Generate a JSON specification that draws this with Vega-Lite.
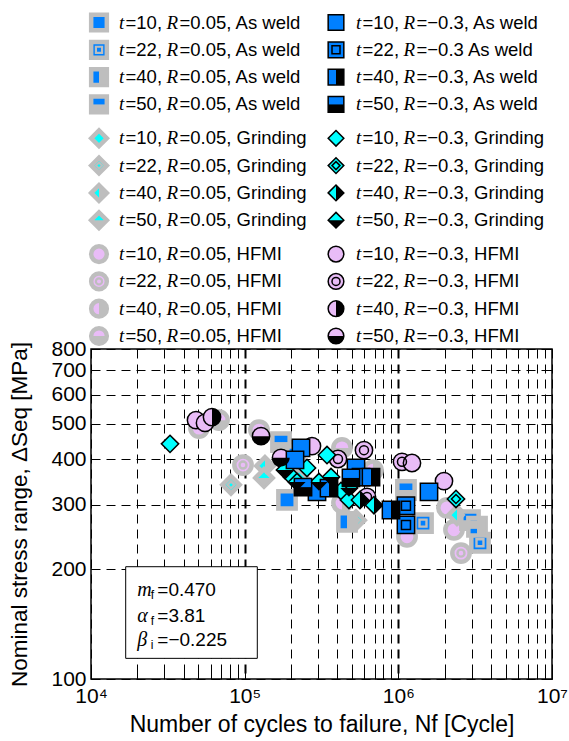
{
  "$schema": "https://vega.github.io/schema/vega-lite/v6.json",
  "padding": {"left": 8, "top": 5, "right": 0, "bottom": 0},
  "spacing": 0,
  "bounds": "flush",
  "vconcat": [
    {
      "width": 461,
      "height": 342,
      "view": {"stroke": null},
      "data": {"values": [
        {"col": 0, "pos": 0, "t": 10, "R": 0.05, "tr": "AW", "tl": "=10,", "rl": "=0.05, As weld"},
        {"col": 0, "pos": 1, "t": 22, "R": 0.05, "tr": "AW", "tl": "=22,", "rl": "=0.05, As weld"},
        {"col": 0, "pos": 2, "t": 40, "R": 0.05, "tr": "AW", "tl": "=40,", "rl": "=0.05, As weld"},
        {"col": 0, "pos": 3, "t": 50, "R": 0.05, "tr": "AW", "tl": "=50,", "rl": "=0.05, As weld"},
        {"col": 0, "pos": 4.24, "t": 10, "R": 0.05, "tr": "GR", "tl": "=10,", "rl": "=0.05, Grinding"},
        {"col": 0, "pos": 5.24, "t": 22, "R": 0.05, "tr": "GR", "tl": "=22,", "rl": "=0.05, Grinding"},
        {"col": 0, "pos": 6.24, "t": 40, "R": 0.05, "tr": "GR", "tl": "=40,", "rl": "=0.05, Grinding"},
        {"col": 0, "pos": 7.24, "t": 50, "R": 0.05, "tr": "GR", "tl": "=50,", "rl": "=0.05, Grinding"},
        {"col": 0, "pos": 8.48, "t": 10, "R": 0.05, "tr": "HF", "tl": "=10,", "rl": "=0.05, HFMI"},
        {"col": 0, "pos": 9.48, "t": 22, "R": 0.05, "tr": "HF", "tl": "=22,", "rl": "=0.05, HFMI"},
        {"col": 0, "pos": 10.48, "t": 40, "R": 0.05, "tr": "HF", "tl": "=40,", "rl": "=0.05, HFMI"},
        {"col": 0, "pos": 11.48, "t": 50, "R": 0.05, "tr": "HF", "tl": "=50,", "rl": "=0.05, HFMI"},
        {"col": 1, "pos": 0, "t": 10, "R": -0.3, "tr": "AW", "tl": "=10,", "rl": "=−0.3, As weld"},
        {"col": 1, "pos": 1, "t": 22, "R": -0.3, "tr": "AW", "tl": "=22,", "rl": "=−0.3 As weld"},
        {"col": 1, "pos": 2, "t": 40, "R": -0.3, "tr": "AW", "tl": "=40,", "rl": "=−0.3, As weld"},
        {"col": 1, "pos": 3, "t": 50, "R": -0.3, "tr": "AW", "tl": "=50,", "rl": "=−0.3, As weld"},
        {"col": 1, "pos": 4.24, "t": 10, "R": -0.3, "tr": "GR", "tl": "=10,", "rl": "=−0.3, Grinding"},
        {"col": 1, "pos": 5.24, "t": 22, "R": -0.3, "tr": "GR", "tl": "=22,", "rl": "=−0.3, Grinding"},
        {"col": 1, "pos": 6.24, "t": 40, "R": -0.3, "tr": "GR", "tl": "=40,", "rl": "=−0.3, Grinding"},
        {"col": 1, "pos": 7.24, "t": 50, "R": -0.3, "tr": "GR", "tl": "=50,", "rl": "=−0.3, Grinding"},
        {"col": 1, "pos": 8.48, "t": 10, "R": -0.3, "tr": "HF", "tl": "=10,", "rl": "=−0.3, HFMI"},
        {"col": 1, "pos": 9.48, "t": 22, "R": -0.3, "tr": "HF", "tl": "=22,", "rl": "=−0.3, HFMI"},
        {"col": 1, "pos": 10.48, "t": 40, "R": -0.3, "tr": "HF", "tl": "=40,", "rl": "=−0.3, HFMI"},
        {"col": 1, "pos": 11.48, "t": 50, "R": -0.3, "tr": "HF", "tl": "=50,", "rl": "=−0.3, HFMI"}
      ]},
      "encoding": {
        "x": {"field": "col", "type": "quantitative", "scale": {"domain": [0, 1], "range": [8, 245], "nice": false, "zero": false}, "axis": null},
        "y": {"field": "pos", "type": "quantitative", "scale": {"domain": [0, 11.48], "range": [15.5, 329], "nice": false, "zero": false}, "axis": null}
      },
      "layer": [
        {"transform": [{"filter": "datum.R > 0"}],
         "mark": {"type": "point", "filled": true, "opacity": 1, "stroke": "#BEBEBE", "strokeWidth": 4.5, "size": 245},
         "encoding": {
           "shape": {"field": "tr", "type": "nominal", "scale": {"domain": ["AW", "GR", "HF"], "range": ["square", "diamond", "circle"]}, "legend": null},
           "fill": {"field": "tr", "type": "nominal", "scale": {"domain": ["AW", "GR", "HF"], "range": ["#0080FF", "#00FFFF", "#E9BCF7"]}, "legend": null}}},
        {"transform": [{"filter": "datum.R > 0 && datum.t == 40"}],
         "mark": {"type": "point", "filled": true, "opacity": 1, "fill": "#BEBEBE", "strokeWidth": 0, "size": 245},
         "encoding": {"shape": {"field": "tr", "type": "nominal", "scale": {"domain": ["AW", "GR", "HF"], "range": ["M0,-1H1V1H0Z", "M0,-1L1,0L0,1Z", "M0,-1A1,1,0,0,1,0,1Z"]}, "legend": null}}},
        {"transform": [{"filter": "datum.R > 0 && datum.t == 50"}],
         "mark": {"type": "point", "filled": true, "opacity": 1, "fill": "#BEBEBE", "strokeWidth": 0, "size": 245},
         "encoding": {"shape": {"field": "tr", "type": "nominal", "scale": {"domain": ["AW", "GR", "HF"], "range": ["M-1,0H1V1H-1Z", "M-1,0L1,0L0,1Z", "M-1,0A1,1,0,0,0,1,0Z"]}, "legend": null}}},
        {"transform": [{"filter": "datum.R > 0 && datum.t == 22"}],
         "mark": {"type": "point", "filled": false, "opacity": 1, "stroke": "#BEBEBE", "strokeWidth": 2.2, "size": 38},
         "encoding": {"shape": {"field": "tr", "type": "nominal", "scale": {"domain": ["AW", "GR", "HF"], "range": ["square", "diamond", "circle"]}, "legend": null}}},
        {"transform": [{"filter": "datum.R < 0"}],
         "mark": {"type": "point", "filled": true, "opacity": 1, "stroke": "black", "strokeWidth": 1.5, "size": 245},
         "encoding": {
           "shape": {"field": "tr", "type": "nominal", "scale": {"domain": ["AW", "GR", "HF"], "range": ["square", "diamond", "circle"]}, "legend": null},
           "fill": {"field": "tr", "type": "nominal", "scale": {"domain": ["AW", "GR", "HF"], "range": ["#0080FF", "#00FFFF", "#E9BCF7"]}, "legend": null}}},
        {"transform": [{"filter": "datum.R < 0 && datum.t == 40"}],
         "mark": {"type": "point", "filled": true, "opacity": 1, "fill": "black", "strokeWidth": 0, "size": 245},
         "encoding": {"shape": {"field": "tr", "type": "nominal", "scale": {"domain": ["AW", "GR", "HF"], "range": ["M0,-1H1V1H0Z", "M0,-1L1,0L0,1Z", "M0,-1A1,1,0,0,1,0,1Z"]}, "legend": null}}},
        {"transform": [{"filter": "datum.R < 0 && datum.t == 50"}],
         "mark": {"type": "point", "filled": true, "opacity": 1, "fill": "black", "strokeWidth": 0, "size": 245},
         "encoding": {"shape": {"field": "tr", "type": "nominal", "scale": {"domain": ["AW", "GR", "HF"], "range": ["M-1,0H1V1H-1Z", "M-1,0L1,0L0,1Z", "M-1,0A1,1,0,0,0,1,0Z"]}, "legend": null}}},
        {"transform": [{"filter": "datum.R < 0 && datum.t == 22"}],
         "mark": {"type": "point", "filled": false, "opacity": 1, "stroke": "black", "strokeWidth": 1.5, "size": 64},
         "encoding": {"shape": {"field": "tr", "type": "nominal", "scale": {"domain": ["AW", "GR", "HF"], "range": ["square", "diamond", "circle"]}, "legend": null}}},
        {"mark": {"type": "text", "text": "t", "font": "Liberation Serif", "fontStyle": "italic", "fontSize": 19, "align": "left", "baseline": "middle", "dx": 20, "color": "black"}},
        {"mark": {"type": "text", "font": "Liberation Sans", "fontSize": 18.5, "align": "left", "baseline": "middle", "dx": 26.5, "color": "black"},
         "encoding": {"text": {"field": "tl"}}},
        {"mark": {"type": "text", "text": "R", "font": "Liberation Serif", "fontStyle": "italic", "fontSize": 19, "align": "left", "baseline": "middle", "dx": 67.5, "color": "black"}},
        {"mark": {"type": "text", "font": "Liberation Sans", "fontSize": 18.5, "align": "left", "baseline": "middle", "dx": 80.5, "color": "black"},
         "encoding": {"text": {"field": "rl"}}}
      ],
      "resolve": {"scale": {"shape": "independent"}}
    },
    {
      "width": 461,
      "height": 330,
      "view": {"stroke": "black", "strokeWidth": 1.5},
      "data": {"values": [
        {"N": 50440, "S": 486, "t": 10, "R": 0.05, "tr": "HF"},
        {"N": 68080, "S": 511, "t": 50, "R": 0.05, "tr": "HF"},
        {"N": 123970, "S": 480, "t": 10, "R": 0.05, "tr": "HF"},
        {"N": 97520, "S": 385, "t": 22, "R": 0.05, "tr": "HF"},
        {"N": 429800, "S": 429, "t": 50, "R": 0.05, "tr": "HF"},
        {"N": 1139000, "S": 245, "t": 10, "R": 0.05, "tr": "HF"},
        {"N": 2073000, "S": 294, "t": 10, "R": 0.05, "tr": "HF"},
        {"N": 2302000, "S": 256, "t": 10, "R": 0.05, "tr": "HF"},
        {"N": 2557000, "S": 221, "t": 22, "R": 0.05, "tr": "HF"},
        {"N": 429800, "S": 303, "t": 40, "R": 0.05, "tr": "HF"},
        {"N": 684100, "S": 373, "t": 40, "R": 0.05, "tr": "HF"},
        {"N": 81470, "S": 340, "t": 22, "R": 0.05, "tr": "GR"},
        {"N": 135600, "S": 383, "t": 40, "R": 0.05, "tr": "GR"},
        {"N": 133600, "S": 355, "t": 50, "R": 0.05, "tr": "GR"},
        {"N": 530300, "S": 272, "t": 22, "R": 0.05, "tr": "GR"},
        {"N": 2408000, "S": 281, "t": 40, "R": 0.05, "tr": "GR"},
        {"N": 225700, "S": 355, "t": 10, "R": 0.05, "tr": "GR"},
        {"N": 172400, "S": 445, "t": 50, "R": 0.05, "tr": "AW"},
        {"N": 188600, "S": 309, "t": 10, "R": 0.05, "tr": "AW"},
        {"N": 1121000, "S": 329, "t": 50, "R": 0.05, "tr": "AW"},
        {"N": 1447000, "S": 267, "t": 22, "R": 0.05, "tr": "AW"},
        {"N": 2926000, "S": 272, "t": 50, "R": 0.05, "tr": "AW"},
        {"N": 3399000, "S": 236, "t": 22, "R": 0.05, "tr": "AW"},
        {"N": 463400, "S": 269, "t": 40, "R": 0.05, "tr": "AW"},
        {"N": 212600, "S": 410, "t": 40, "R": 0.05, "tr": "AW"},
        {"N": 3250000, "S": 261, "t": 40, "R": 0.05, "tr": "AW"},
        {"N": 48240, "S": 511, "t": 10, "R": -0.3, "tr": "HF"},
        {"N": 55180, "S": 502, "t": 10, "R": -0.3, "tr": "HF"},
        {"N": 61290, "S": 521, "t": 40, "R": -0.3, "tr": "HF"},
        {"N": 127760, "S": 462, "t": 50, "R": -0.3, "tr": "HF"},
        {"N": 172400, "S": 403, "t": 50, "R": -0.3, "tr": "HF"},
        {"N": 274200, "S": 434, "t": 10, "R": -0.3, "tr": "HF"},
        {"N": 404900, "S": 400, "t": 22, "R": -0.3, "tr": "HF"},
        {"N": 597600, "S": 423, "t": 22, "R": -0.3, "tr": "HF"},
        {"N": 1056000, "S": 393, "t": 22, "R": -0.3, "tr": "HF"},
        {"N": 1227000, "S": 390, "t": 10, "R": -0.3, "tr": "HF"},
        {"N": 1982000, "S": 348, "t": 10, "R": -0.3, "tr": "HF"},
        {"N": 625300, "S": 315, "t": 22, "R": -0.3, "tr": "HF"},
        {"N": 32680, "S": 440, "t": 10, "R": -0.3, "tr": "GR"},
        {"N": 343400, "S": 410, "t": 10, "R": -0.3, "tr": "GR"},
        {"N": 2372000, "S": 311, "t": 22, "R": -0.3, "tr": "GR"},
        {"N": 694400, "S": 299, "t": 40, "R": -0.3, "tr": "GR"},
        {"N": 203200, "S": 357, "t": 10, "R": -0.3, "tr": "GR"},
        {"N": 254400, "S": 378, "t": 10, "R": -0.3, "tr": "GR"},
        {"N": 364600, "S": 357, "t": 50, "R": -0.3, "tr": "GR"},
        {"N": 219000, "S": 346, "t": 50, "R": -0.3, "tr": "GR"},
        {"N": 304500, "S": 346, "t": 50, "R": -0.3, "tr": "GR"},
        {"N": 477300, "S": 333, "t": 50, "R": -0.3, "tr": "GR"},
        {"N": 423600, "S": 327, "t": 10, "R": -0.3, "tr": "GR"},
        {"N": 477300, "S": 309, "t": 10, "R": -0.3, "tr": "GR"},
        {"N": 183000, "S": 373, "t": 50, "R": -0.3, "tr": "GR"},
        {"N": 562900, "S": 309, "t": 40, "R": -0.3, "tr": "GR"},
        {"N": 232600, "S": 429, "t": 10, "R": -0.3, "tr": "AW"},
        {"N": 212600, "S": 398, "t": 10, "R": -0.3, "tr": "AW"},
        {"N": 530300, "S": 378, "t": 10, "R": -0.3, "tr": "AW"},
        {"N": 571400, "S": 357, "t": 10, "R": -0.3, "tr": "AW"},
        {"N": 663900, "S": 357, "t": 40, "R": -0.3, "tr": "AW"},
        {"N": 295600, "S": 325, "t": 10, "R": -0.3, "tr": "AW"},
        {"N": 1583000, "S": 325, "t": 10, "R": -0.3, "tr": "AW"},
        {"N": 1121000, "S": 298, "t": 22, "R": -0.3, "tr": "AW"},
        {"N": 1121000, "S": 264, "t": 22, "R": -0.3, "tr": "AW"},
        {"N": 895900, "S": 290, "t": 40, "R": -0.3, "tr": "AW"},
        {"N": 491800, "S": 355, "t": 50, "R": -0.3, "tr": "AW"},
        {"N": 353800, "S": 333, "t": 40, "R": -0.3, "tr": "AW"},
        {"N": 239700, "S": 335, "t": 50, "R": -0.3, "tr": "AW"}
      ]},
      "encoding": {
        "x": {"field": "N", "type": "quantitative", "scale": {"type": "log", "domain": [10000, 10000000], "nice": false}, "axis": null},
        "y": {"field": "S", "type": "quantitative", "scale": {"type": "log", "domain": [100, 800], "nice": false}, "axis": null}
      },
      "layer": [
        {"data": {"values": [{"N1": 16820, "N2": 120850, "S1": 113.9, "S2": 202.9}]},
         "mark": {"type": "rect", "fill": "white", "stroke": "black", "strokeWidth": 1},
         "encoding": {
           "x": {"field": "N1", "type": "quantitative", "scale": {"type": "log", "domain": [10000, 10000000], "nice": false},
                 "axis": {"orient": "top", "values": [10000, 20000, 30000, 40000, 50000, 60000, 70000, 80000, 90000, 100000, 200000, 300000, 400000, 500000, 600000, 700000, 800000, 900000, 1000000, 2000000, 3000000, 4000000, 5000000, 6000000, 7000000, 8000000, 9000000, 10000000],
                          "labels": false, "grid": false, "domain": false, "tickSize": -8, "tickColor": "black", "tickWidth": 1, "title": null}},
           "x2": {"field": "N2"},
           "y": {"field": "S1", "type": "quantitative", "scale": {"type": "log", "domain": [100, 800], "nice": false},
                 "axis": {"orient": "right", "values": [100, 200, 300, 400, 500, 600, 700, 800], "labels": false, "grid": false, "domain": false, "tickSize": -8, "tickColor": "black", "tickWidth": 1, "title": null}},
           "y2": {"field": "S2"}}},
        {"data": {"values": [
           {"Nt": 20010, "S": 175.2, "sym": "m", "sub": "f", "val": "=0.470"},
           {"Nt": 20010, "S": 149.2, "sym": "α", "sub": "f", "val": "=3.81"},
           {"Nt": 20010, "S": 127.8, "sym": "β", "sub": "i", "val": "=−0.225"}]},
         "encoding": {
           "x": {"field": "Nt", "type": "quantitative", "scale": {"type": "log", "domain": [10000, 10000000], "nice": false}, "axis": null},
           "y": {"field": "S", "type": "quantitative", "scale": {"type": "log", "domain": [100, 800], "nice": false}, "axis": null}},
         "layer": [
           {"mark": {"type": "text", "font": "Liberation Serif", "fontStyle": "italic", "fontSize": 20, "align": "left", "baseline": "middle", "color": "black"},
            "encoding": {"text": {"field": "sym"}}},
           {"mark": {"type": "text", "font": "Liberation Sans", "fontSize": 12, "align": "left", "baseline": "middle", "dx": 13.5, "dy": 5, "color": "black"},
            "encoding": {"text": {"field": "sub"}}},
           {"mark": {"type": "text", "font": "Liberation Sans", "fontSize": 19, "align": "left", "baseline": "middle", "dx": 20, "color": "black"},
            "encoding": {"text": {"field": "val"}}}
         ]},
        {"transform": [{"filter": "datum.R > 0"}],
         "mark": {"type": "point", "filled": true, "opacity": 1, "stroke": "#BEBEBE", "strokeWidth": 4.5, "size": 300},
         "encoding": {
           "x": {"field": "N", "type": "quantitative", "scale": {"type": "log", "domain": [10000, 10000000], "nice": false},
                 "axis": {"orient": "bottom", "values": [10000, 20000, 30000, 40000, 50000, 60000, 70000, 80000, 90000, 100000, 200000, 300000, 400000, 500000, 600000, 700000, 800000, 900000, 1000000, 2000000, 3000000, 4000000, 5000000, 6000000, 7000000, 8000000, 9000000, 10000000],
                          "labelExpr": "datum.value == 10000 ? '10⁴' : datum.value == 100000 ? '10⁵' : datum.value == 1000000 ? '10⁶' : datum.value == 10000000 ? '10⁷' : ''",
                          "labelFont": "Liberation Sans", "labelFontSize": 21, "labelColor": "black", "labelPadding": 14, "labelFlush": false, "labelOverlap": false, "labelBound": false,
                          "grid": true, "gridColor": "black", "gridOpacity": 1, "gridDash": [9, 6],
                          "gridWidth": {"condition": {"test": "datum.value == 100000 || datum.value == 1000000", "value": 2}, "value": 1},
                          "domain": false, "ticks": true, "tickSize": -8, "tickColor": "black", "tickWidth": 1,
                          "title": "Number of cycles to failure, Nf  [Cycle]", "titleFont": "Liberation Sans", "titleFontSize": 23, "titleFontWeight": "normal", "titleColor": "black", "titlePadding": 7}},
           "y": {"field": "S", "type": "quantitative", "scale": {"type": "log", "domain": [100, 800], "nice": false},
                 "axis": {"orient": "left", "values": [100, 200, 300, 400, 500, 600, 700, 800], "format": "d",
                          "labelFont": "Liberation Sans", "labelFontSize": 21, "labelColor": "black", "labelPadding": 13, "labelFlush": false, "labelOverlap": false, "labelBound": false,
                          "grid": true, "gridColor": "black", "gridOpacity": 1, "gridDash": [9, 6], "gridWidth": 1,
                          "domain": false, "ticks": true, "tickSize": -8, "tickColor": "black", "tickWidth": 1,
                          "title": "Nominal stress range,  ΔSeq  [MPa]", "titleFont": "Liberation Sans", "titleFontSize": 22.5, "titleFontWeight": "normal", "titleColor": "black", "titlePadding": 19}},
           "shape": {"field": "tr", "type": "nominal", "scale": {"domain": ["AW", "GR", "HF"], "range": ["square", "diamond", "circle"]}, "legend": null},
           "fill": {"field": "tr", "type": "nominal", "scale": {"domain": ["AW", "GR", "HF"], "range": ["#0080FF", "#00FFFF", "#E9BCF7"]}, "legend": null}}},
        {"transform": [{"filter": "datum.R > 0 && datum.t == 40"}],
         "mark": {"type": "point", "filled": true, "opacity": 1, "fill": "#BEBEBE", "strokeWidth": 0, "size": 300},
         "encoding": {"shape": {"field": "tr", "type": "nominal", "scale": {"domain": ["AW", "GR", "HF"], "range": ["M0,-1H1V1H0Z", "M0,-1L1,0L0,1Z", "M0,-1A1,1,0,0,1,0,1Z"]}, "legend": null}}},
        {"transform": [{"filter": "datum.R > 0 && datum.t == 50"}],
         "mark": {"type": "point", "filled": true, "opacity": 1, "fill": "#BEBEBE", "strokeWidth": 0, "size": 300},
         "encoding": {"shape": {"field": "tr", "type": "nominal", "scale": {"domain": ["AW", "GR", "HF"], "range": ["M-1,0H1V1H-1Z", "M-1,0L1,0L0,1Z", "M-1,0A1,1,0,0,0,1,0Z"]}, "legend": null}}},
        {"transform": [{"filter": "datum.R > 0 && datum.t == 22"}],
         "mark": {"type": "point", "filled": false, "opacity": 1, "stroke": "#BEBEBE", "strokeWidth": 2.4, "size": 49},
         "encoding": {"shape": {"field": "tr", "type": "nominal", "scale": {"domain": ["AW", "GR", "HF"], "range": ["square", "diamond", "circle"]}, "legend": null}}},
        {"transform": [{"filter": "datum.R < 0"}],
         "mark": {"type": "point", "filled": true, "opacity": 1, "stroke": "black", "strokeWidth": 1.5, "size": 300},
         "encoding": {
           "shape": {"field": "tr", "type": "nominal", "scale": {"domain": ["AW", "GR", "HF"], "range": ["square", "diamond", "circle"]}, "legend": null},
           "fill": {"field": "tr", "type": "nominal", "scale": {"domain": ["AW", "GR", "HF"], "range": ["#0080FF", "#00FFFF", "#E9BCF7"]}, "legend": null}}},
        {"transform": [{"filter": "datum.R < 0 && datum.t == 40"}],
         "mark": {"type": "point", "filled": true, "opacity": 1, "fill": "black", "strokeWidth": 0, "size": 300},
         "encoding": {"shape": {"field": "tr", "type": "nominal", "scale": {"domain": ["AW", "GR", "HF"], "range": ["M0,-1H1V1H0Z", "M0,-1L1,0L0,1Z", "M0,-1A1,1,0,0,1,0,1Z"]}, "legend": null}}},
        {"transform": [{"filter": "datum.R < 0 && datum.t == 50"}],
         "mark": {"type": "point", "filled": true, "opacity": 1, "fill": "black", "strokeWidth": 0, "size": 300},
         "encoding": {"shape": {"field": "tr", "type": "nominal", "scale": {"domain": ["AW", "GR", "HF"], "range": ["M-1,0H1V1H-1Z", "M-1,0L1,0L0,1Z", "M-1,0A1,1,0,0,0,1,0Z"]}, "legend": null}}},
        {"transform": [{"filter": "datum.R < 0 && datum.t == 22"}],
         "mark": {"type": "point", "filled": false, "opacity": 1, "stroke": "black", "strokeWidth": 1.5, "size": 81},
         "encoding": {"shape": {"field": "tr", "type": "nominal", "scale": {"domain": ["AW", "GR", "HF"], "range": ["square", "diamond", "circle"]}, "legend": null}}}
      ],
      "resolve": {"scale": {"shape": "independent"}, "axis": {"x": "independent", "y": "independent"}}
    }
  ]
}
